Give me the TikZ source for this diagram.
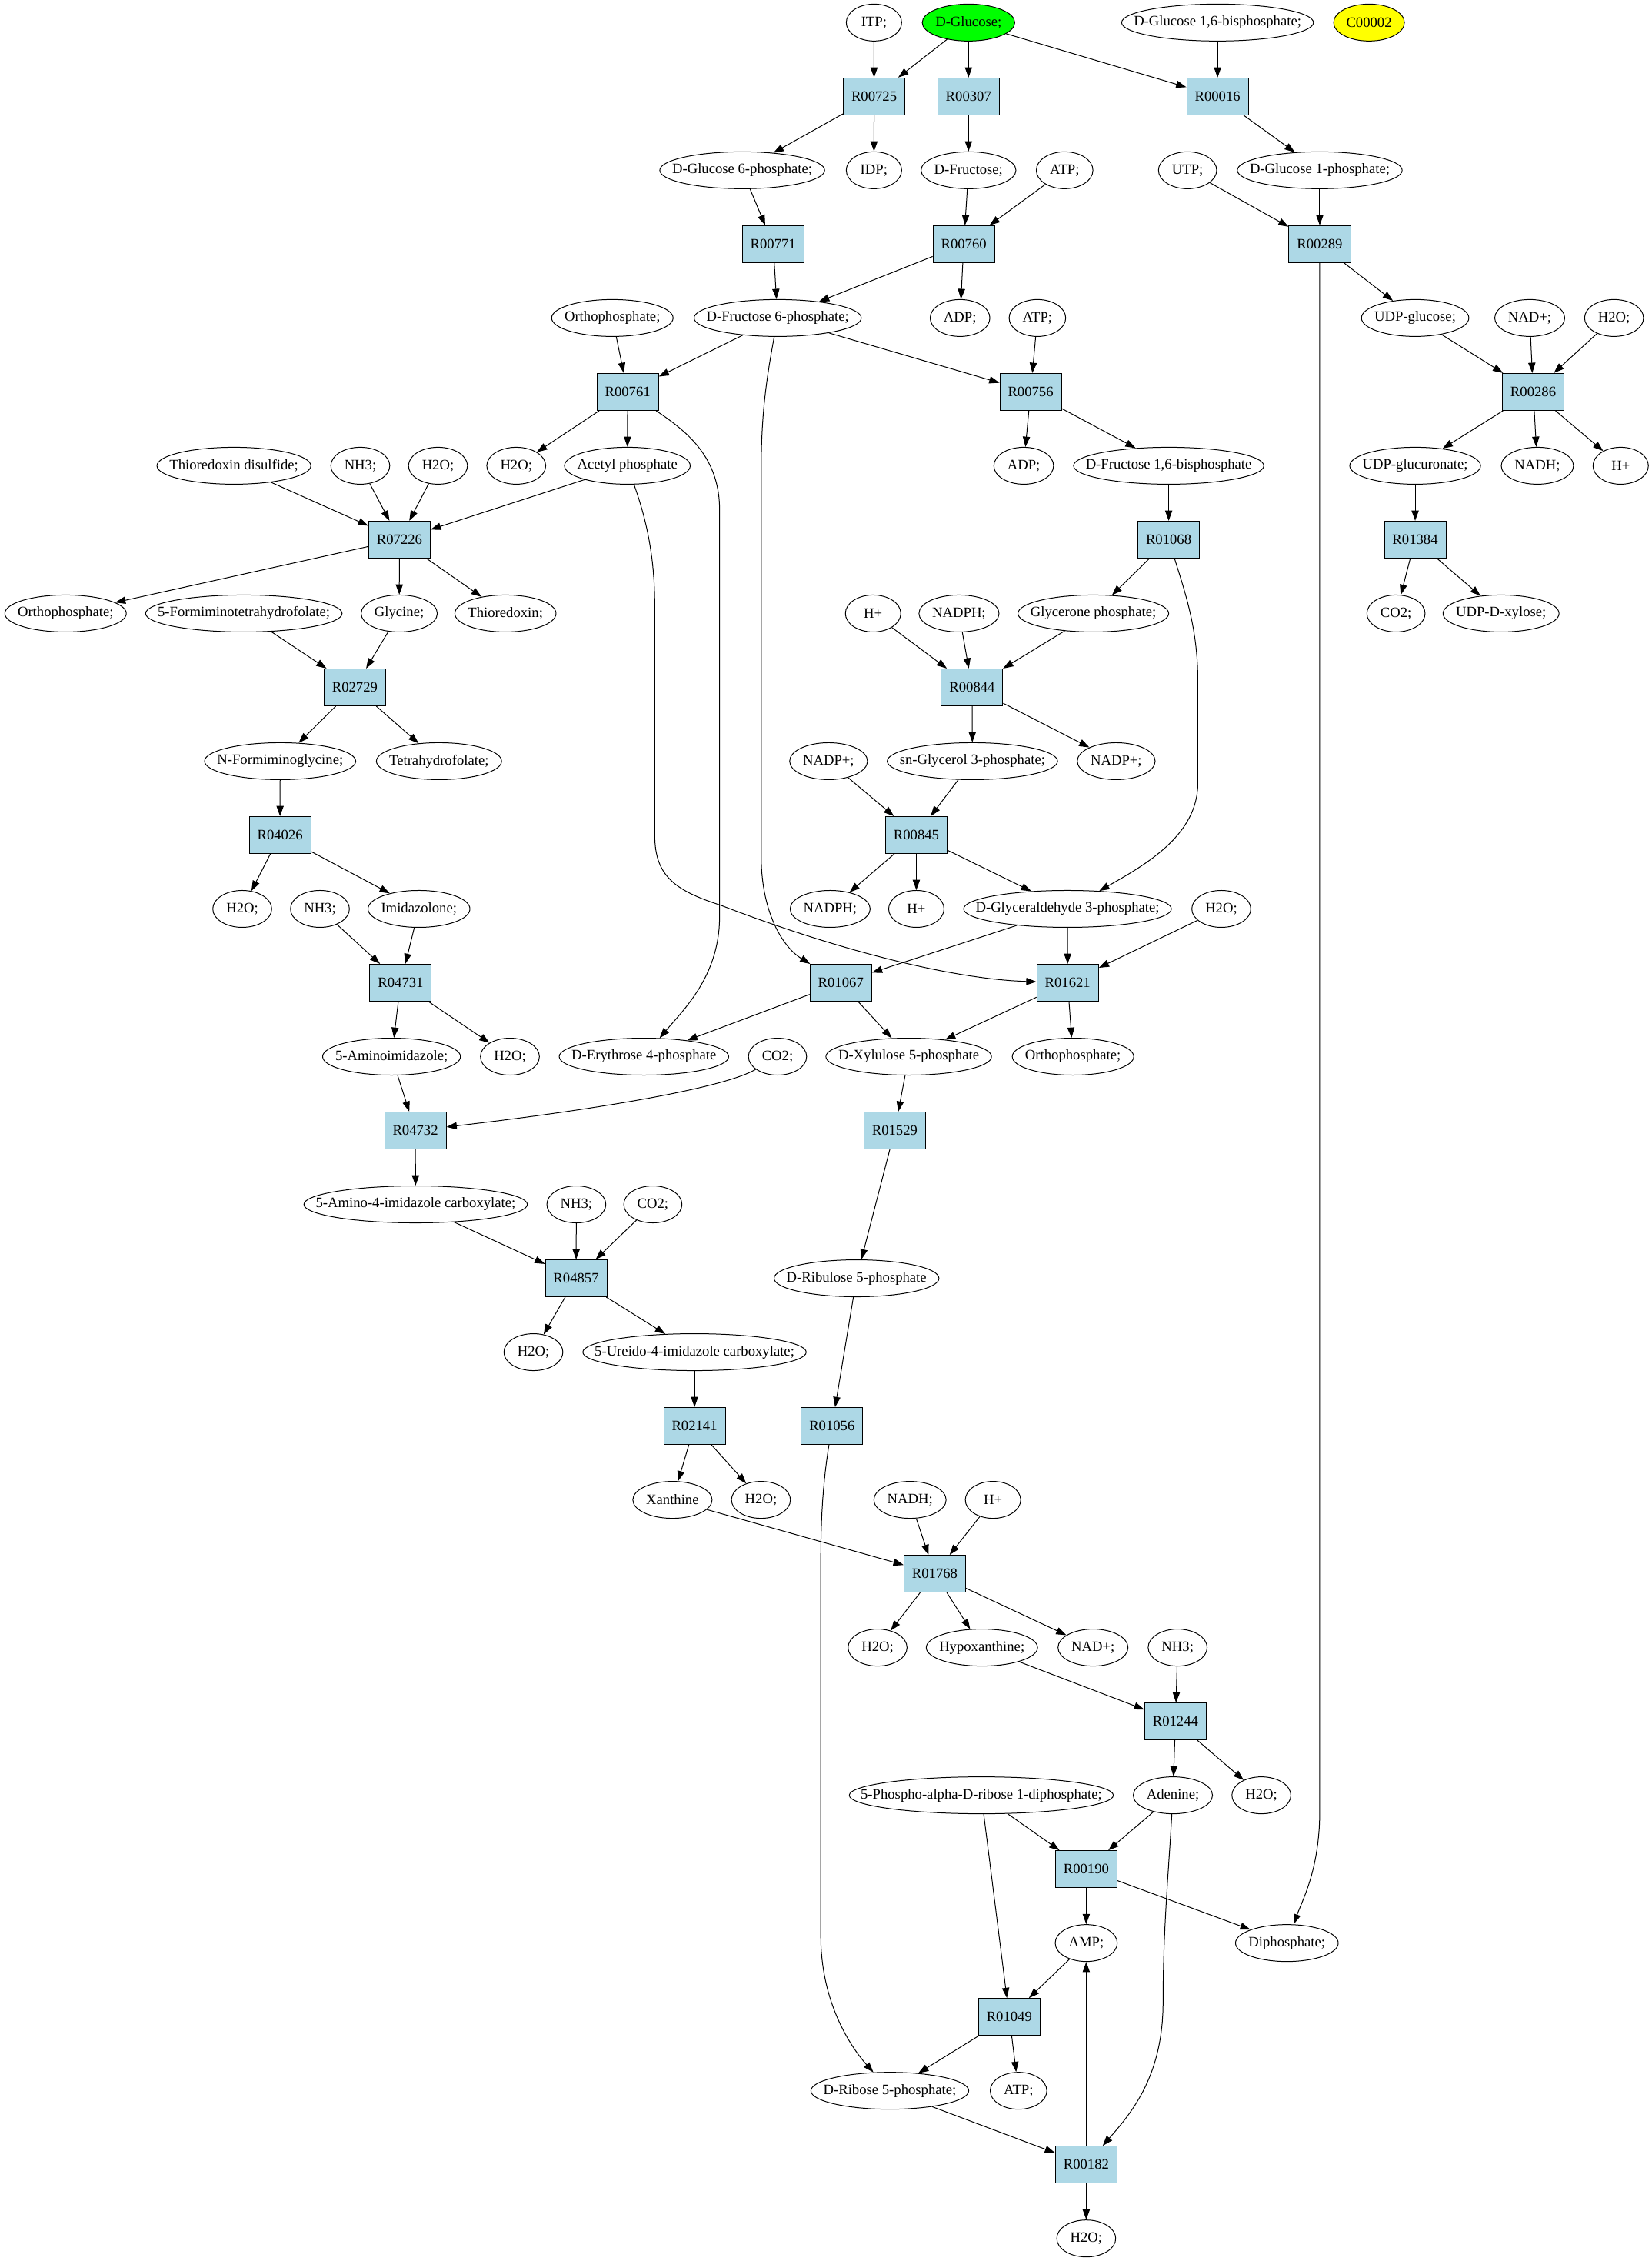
\documentclass[tikz,border=0pt]{standalone}
\usepackage{fontspec}
\setmainfont{Liberation Serif}
\usetikzlibrary{arrows.meta,shapes.geometric}
\definecolor{boxblue}{HTML}{ADD8E6}
\definecolor{glcgreen}{HTML}{00FF00}
\definecolor{cyellow}{HTML}{FFFF00}
\newdimen\mymtw
\newcommand\mymet[5][]{%
  \pgfinterruptpicture
    \setbox0=\hbox{\fontsize{14}{16}\selectfont #5}%
    \global\mymtw=\wd0
  \endpgfinterruptpicture
  \global\mymtw=0.98\mymtw
  \global\advance\mymtw by 27pt
  \ifdim\mymtw<54pt \global\mymtw=54pt\fi
  \edef\mymw{\the\mymtw}%
  \node[metab,minimum width=\mymw,#1] (#2) at (#3,#4) {\makebox[0pt]{#5}};%
}
\newcommand\myrxn[4]{\node[rxnbox] (#1) at (#3,#4) {#2};}
\begin{document}
\begin{tikzpicture}[x=1.4053pt,y=-72pt,
  metab/.style={ellipse,draw,line width=0.75pt,minimum height=36pt,inner sep=0pt,font=\fontsize{14}{16}\selectfont},
  rxnbox/.style={rectangle,draw,fill=boxblue,line width=0.75pt,minimum width=60pt,minimum height=36pt,inner sep=0pt,font=\fontsize{14}{16}\selectfont},
  edge/.style={line width=0.75pt,-{Triangle[length=10pt,width=7pt]}}]
\fill[white] (0,-0.30556) rectangle (1146.2,30.30556);
% row 0
\mymet{itp}{606.4}{0}{ITP;}
\mymet[fill=glcgreen]{glc}{672}{0}{D-Glucose;}
\mymet{g16bp}{844.8}{0}{D-Glucose 1,6-bisphosphate;}
\mymet[fill=cyellow,minimum width=69pt]{c2}{949.9}{0}{C00002}
% row 1
\myrxn{r00725}{R00725}{606.5}{1}
\myrxn{r00307}{R00307}{672}{1}
\myrxn{r00016}{R00016}{844.8}{1}
% row 2
\mymet{g6p}{515}{2}{D-Glucose 6-phosphate;}
\mymet{idp}{606.4}{2}{IDP;}
\mymet{fru}{672}{2}{D-Fructose;}
\mymet{atp1}{738.7}{2}{ATP;}
\mymet{utp}{824}{2}{UTP;}
\mymet{g1p}{915.7}{2}{D-Glucose 1-phosphate;}
% row 3
\myrxn{r00771}{R00771}{536.4}{3}
\myrxn{r00760}{R00760}{668.7}{3}
\myrxn{r00289}{R00289}{915.7}{3}
% row 4
\mymet{pi1}{424.9}{4}{Orthophosphate;}
\mymet{f6p}{539.6}{4}{D-Fructose 6-phosphate;}
\mymet{adp1}{666.1}{4}{ADP;}
\mymet{atp2}{719.8}{4}{ATP;}
\mymet{udpg}{981.9}{4}{UDP-glucose;}
\mymet{nad1}{1061.4}{4}{NAD+;}
\mymet{h2o1}{1119.9}{4}{H2O;}
% row 5
\myrxn{r00761}{R00761}{435.5}{5}
\myrxn{r00756}{R00756}{715.1}{5}
\myrxn{r00286}{R00286}{1063.8}{5}
% row 6
\mymet{trxs}{162.3}{6}{Thioredoxin disulfide;}
\mymet{nh3a}{250}{6}{NH3;}
\mymet{h2o2}{303.9}{6}{H2O;}
\mymet{h2o3}{358.2}{6}{H2O;}
\mymet{acp}{435.3}{6}{Acetyl phosphate}
\mymet{adp2}{710.3}{6}{ADP;}
\mymet{fbp}{810.9}{6}{D-Fructose 1,6-bisphosphate}
\mymet{udpgla}{981.9}{6}{UDP-glucuronate;}
\mymet{nadh1}{1066.7}{6}{NADH;}
\mymet{hp1}{1124.5}{6}{H+}
% row 7
\myrxn{r07226}{R07226}{277.2}{7}
\myrxn{r01068}{R01068}{810.9}{7}
\myrxn{r01384}{R01384}{981.9}{7}
% row 8
\mymet{pi2}{45.5}{8}{Orthophosphate;}
\mymet{fthf}{169.2}{8}{5-Formiminotetrahydrofolate;}
\mymet{gly}{277}{8}{Glycine;}
\mymet{trx}{350.7}{8}{Thioredoxin;}
\mymet{hp2}{605.8}{8}{H+}
\mymet{nadph1}{665.4}{8}{NADPH;}
\mymet{dhap}{758.6}{8}{Glycerone phosphate;}
\mymet{co2a}{968.6}{8}{CO2;}
\mymet{udpx}{1041.5}{8}{UDP-D-xylose;}
% row 9
\myrxn{r02729}{R02729}{246.2}{9}
\myrxn{r00844}{R00844}{674.5}{9}
% row 10
\mymet{nfg}{194.4}{10}{N-Formiminoglycine;}
\mymet{thf}{304.6}{10}{Tetrahydrofolate;}
\mymet{nadp1}{574.9}{10}{NADP+;}
\mymet{g3p}{674.7}{10}{sn-Glycerol 3-phosphate;}
\mymet{nadp2}{774.5}{10}{NADP+;}
% row 11
\myrxn{r04026}{R04026}{194.3}{11}
\myrxn{r00845}{R00845}{635.8}{11}
% row 12
\mymet{h2o4}{168.1}{12}{H2O;}
\mymet{nh3b}{222}{12}{NH3;}
\mymet{imz}{290.7}{12}{Imidazolone;}
\mymet{nadph2}{576}{12}{NADPH;}
\mymet{hp3}{635.8}{12}{H+}
\mymet{gap}{740.7}{12}{D-Glyceraldehyde 3-phosphate;}
\mymet{h2o5}{847.4}{12}{H2O;}
% row 13
\myrxn{r04731}{R04731}{278}{13}
\myrxn{r01067}{R01067}{583.4}{13}
\myrxn{r01621}{R01621}{740.8}{13}
% row 14
\mymet{air}{271.7}{14}{5-Aminoimidazole;}
\mymet{h2o6}{353.8}{14}{H2O;}
\mymet{e4p}{446.8}{14}{D-Erythrose 4-phosphate}
\mymet{co2b}{539.5}{14}{CO2;}
\mymet{xu5p}{630.5}{14}{D-Xylulose 5-phosphate}
\mymet{pi3}{744.5}{14}{Orthophosphate;}
% row 15
\myrxn{r04732}{R04732}{288.2}{15}
\myrxn{r01529}{R01529}{620.8}{15}
% row 16
\mymet{aica}{288.4}{16}{5-Amino-4-imidazole carboxylate;}
\mymet{nh3c}{399.9}{16}{NH3;}
\mymet{co2c}{453}{16}{CO2;}
% row 17
\myrxn{r04857}{R04857}{399.7}{17}
\mymet{ru5p}{594.3}{17}{D-Ribulose 5-phosphate}
% row 18
\mymet{h2o7}{370.1}{18}{H2O;}
\mymet{uica}{481.9}{18}{5-Ureido-4-imidazole carboxylate;}
% row 19
\myrxn{r02141}{R02141}{481.9}{19}
\myrxn{r01056}{R01056}{577.3}{19}
% row 20
\mymet{xan}{466.6}{20}{Xanthine}
\mymet{h2o8}{528}{20}{H2O;}
\mymet{nadh2}{631.4}{20}{NADH;}
\mymet{hp4}{689}{20}{H+}
% row 21
\myrxn{r01768}{R01768}{648.6}{21}
% row 22
\mymet{h2o9}{608.9}{22}{H2O;}
\mymet{hyp}{681.3}{22}{Hypoxanthine;}
\mymet{nad2}{758.4}{22}{NAD+;}
\mymet{nh3d}{817.1}{22}{NH3;}
% row 23
\myrxn{r01244}{R01244}{815.6}{23}
% row 24
\mymet{prpp}{680.9}{24}{5-Phospho-alpha-D-ribose 1-diphosphate;}
\mymet{ade}{813.8}{24}{Adenine;}
\mymet{h2o10}{875.2}{24}{H2O;}
% row 25
\myrxn{r00190}{R00190}{753.7}{25}
% row 26
\mymet{amp}{753.7}{26}{AMP;}
\mymet{ppi}{892.9}{26}{Diphosphate;}
% row 27
\myrxn{r01049}{R01049}{700.3}{27}
% row 28
\mymet{r5p}{617.4}{28}{D-Ribose 5-phosphate;}
\mymet{atp3}{706.7}{28}{ATP;}
% row 29
\myrxn{r00182}{R00182}{753.7}{29}
% row 30
\mymet{h2o11}{753.7}{30}{H2O;}

% edges
\draw[edge] (itp) -- (r00725);
\draw[edge] (glc) -- (r00725);
\draw[edge] (glc) -- (r00307);
\draw[edge] (glc) -- (r00016);
\draw[edge] (g16bp) -- (r00016);
\draw[edge] (r00725) -- (g6p);
\draw[edge] (r00725) -- (idp);
\draw[edge] (r00307) -- (fru);
\draw[edge] (r00016) -- (g1p);
\draw[edge] (fru) -- (r00760);
\draw[edge] (atp1) -- (r00760);
\draw[edge] (utp) -- (r00289);
\draw[edge] (g1p) -- (r00289);
\draw[edge] (g6p) -- (r00771);
\draw[edge] (r00771) -- (f6p);
\draw[edge] (r00760) -- (f6p);
\draw[edge] (r00760) -- (adp1);
\draw[edge] (r00289) -- (udpg);
\draw[edge] (r00289) -- (915.7,24.2) .. controls (915.7,25.0) and (904,25.4) .. (ppi);
\draw[edge] (pi1) -- (r00761);
\draw[edge] (f6p) -- (r00761);
\draw[edge] (f6p) -- (r00756);
\draw[edge] (f6p) .. controls (532,4.8) and (528.2,5.3) .. (528.2,6.0) -- (528.2,11.3) .. controls (528.2,12.0) and (541.7,12.5) .. (r01067);
\draw[edge] (atp2) -- (r00756);
\draw[edge] (udpg) -- (r00286);
\draw[edge] (nad1) -- (r00286);
\draw[edge] (h2o1) -- (r00286);
\draw[edge] (r00761) -- (h2o3);
\draw[edge] (r00761) -- (acp);
\draw[edge] (r00761) .. controls (478,5.55) and (499.3,5.9) .. (499.3,6.6) -- (499.3,12.1) .. controls (499.3,12.9) and (475,13.35) .. (e4p);
\draw[edge] (r00756) -- (adp2);
\draw[edge] (r00756) -- (fbp);
\draw[edge] (r00286) -- (udpgla);
\draw[edge] (r00286) -- (nadh1);
\draw[edge] (r00286) -- (hp1);
\draw[edge] (trxs) -- (r07226);
\draw[edge] (nh3a) -- (r07226);
\draw[edge] (h2o2) -- (r07226);
\draw[edge] (acp) -- (r07226);
\draw[edge] (acp) .. controls (448,6.7) and (454.3,7.2) .. (454.3,7.9) -- (454.3,11.0) .. controls (454.3,11.55) and (468,11.75) .. (500,11.95) .. controls (580,12.55) and (660,12.95) .. (r01621);
\draw[edge] (fbp) -- (r01068);
\draw[edge] (udpgla) -- (r01384);
\draw[edge] (r07226) -- (pi2);
\draw[edge] (r07226) -- (gly);
\draw[edge] (r07226) -- (trx);
\draw[edge] (r01068) -- (dhap);
\draw[edge] (r01068) .. controls (822,7.7) and (831.1,8.2) .. (831.1,8.9) -- (831.1,10.3) .. controls (831.1,11.0) and (795,11.4) .. (gap);
\draw[edge] (r01384) -- (co2a);
\draw[edge] (r01384) -- (udpx);
\draw[edge] (fthf) -- (r02729);
\draw[edge] (gly) -- (r02729);
\draw[edge] (hp2) -- (r00844);
\draw[edge] (nadph1) -- (r00844);
\draw[edge] (dhap) -- (r00844);
\draw[edge] (r02729) -- (nfg);
\draw[edge] (r02729) -- (thf);
\draw[edge] (r00844) -- (g3p);
\draw[edge] (r00844) -- (nadp2);
\draw[edge] (nfg) -- (r04026);
\draw[edge] (nadp1) -- (r00845);
\draw[edge] (g3p) -- (r00845);
\draw[edge] (r04026) -- (h2o4);
\draw[edge] (r04026) -- (imz);
\draw[edge] (r00845) -- (nadph2);
\draw[edge] (r00845) -- (hp3);
\draw[edge] (r00845) -- (gap);
\draw[edge] (nh3b) -- (r04731);
\draw[edge] (imz) -- (r04731);
\draw[edge] (gap) -- (r01067);
\draw[edge] (gap) -- (r01621);
\draw[edge] (h2o5) -- (r01621);
\draw[edge] (r04731) -- (air);
\draw[edge] (r04731) -- (h2o6);
\draw[edge] (r01067) -- (e4p);
\draw[edge] (r01067) -- (xu5p);
\draw[edge] (r01621) -- (xu5p);
\draw[edge] (r01621) -- (pi3);
\draw[edge] (air) -- (r04732);
\draw[edge] (co2b) .. controls (500,14.45) and (400,14.75) .. (r04732);
\draw[edge] (xu5p) -- (r01529);
\draw[edge] (r04732) -- (aica);
\draw[edge] (r01529) -- (ru5p);
\draw[edge] (aica) -- (r04857);
\draw[edge] (nh3c) -- (r04857);
\draw[edge] (co2c) -- (r04857);
\draw[edge] (ru5p) -- (r01056);
\draw[edge] (r04857) -- (h2o7);
\draw[edge] (r04857) -- (uica);
\draw[edge] (uica) -- (r02141);
\draw[edge] (r01056) .. controls (571.5,19.7) and (569.5,20.2) .. (569.5,20.8) -- (569.5,25.9) .. controls (569.5,26.8) and (590,27.4) .. (r5p);
\draw[edge] (r02141) -- (xan);
\draw[edge] (r02141) -- (h2o8);
\draw[edge] (xan) -- (r01768);
\draw[edge] (nadh2) -- (r01768);
\draw[edge] (hp4) -- (r01768);
\draw[edge] (r01768) -- (h2o9);
\draw[edge] (r01768) -- (hyp);
\draw[edge] (r01768) -- (nad2);
\draw[edge] (hyp) -- (r01244);
\draw[edge] (nh3d) -- (r01244);
\draw[edge] (r01244) -- (ade);
\draw[edge] (r01244) -- (h2o10);
\draw[edge] (prpp) -- (r00190);
\draw[edge] (prpp) -- (r01049);
\draw[edge] (ade) -- (r00190);
\draw[edge] (ade) .. controls (811,25.0) and (807,25.8) .. (807,26.8) .. controls (807,27.8) and (785,28.3) .. (r00182);
\draw[edge] (r00190) -- (amp);
\draw[edge] (r00190) -- (ppi);
\draw[edge] (amp) -- (r01049);
\draw[edge] (r01049) -- (r5p);
\draw[edge] (r01049) -- (atp3);
\draw[edge] (r5p) -- (r00182);
\draw[edge] (r00182) -- (amp);
\draw[edge] (r00182) -- (h2o11);
\end{tikzpicture}
\end{document}
